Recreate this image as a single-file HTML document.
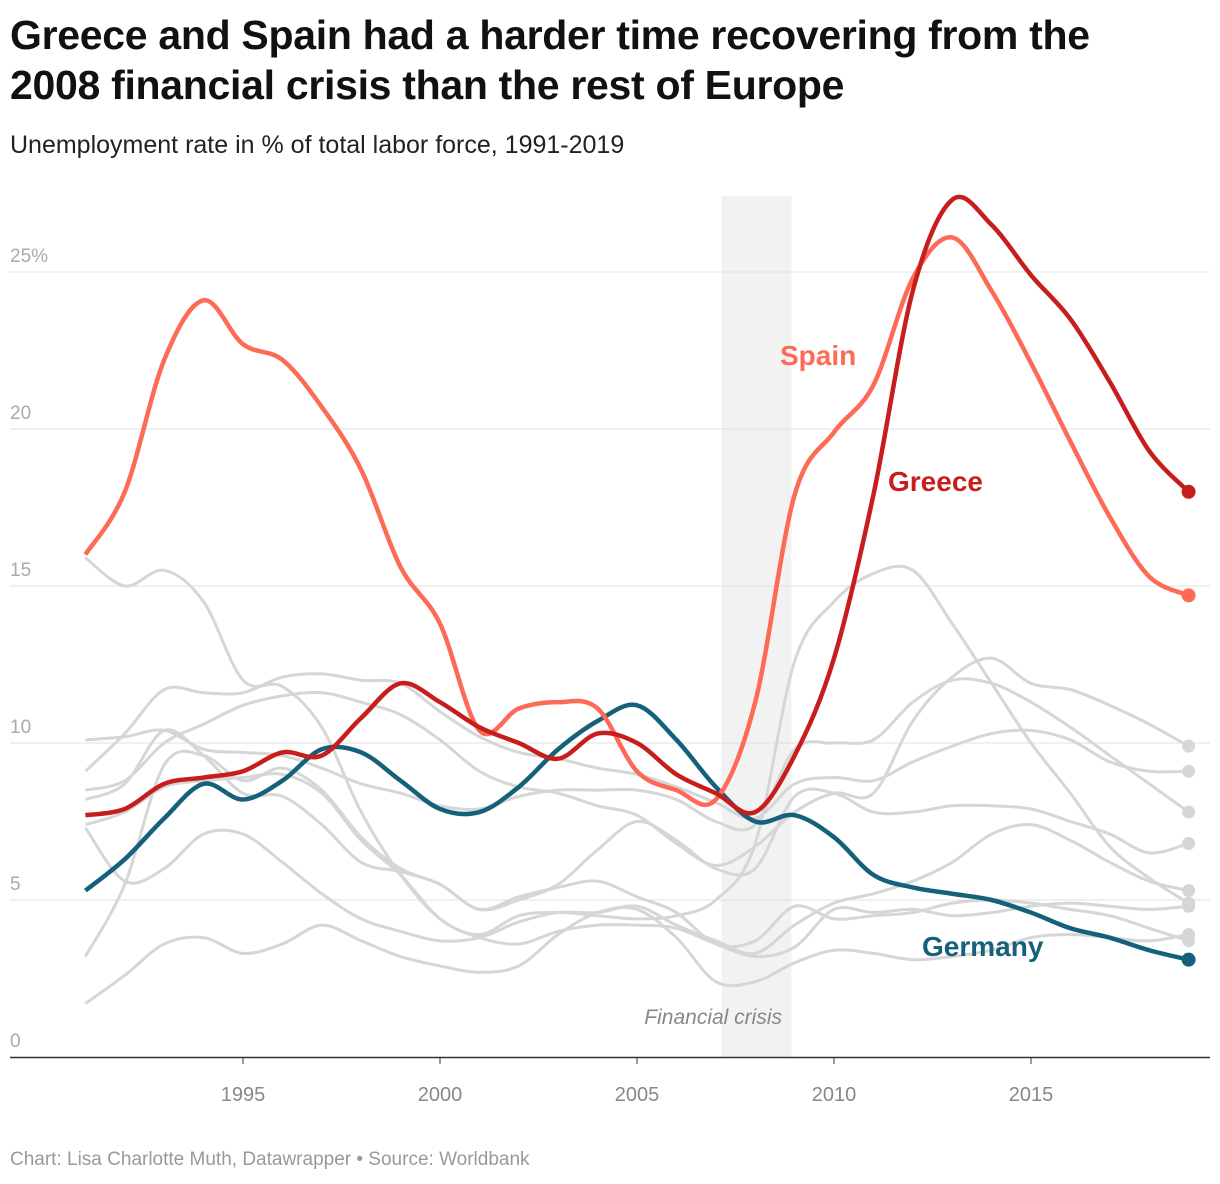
<!DOCTYPE html>
<html><head><meta charset="utf-8">
<style>
body{margin:0;background:#fff;width:1220px;height:1184px;overflow:hidden;font-family:"Liberation Sans",sans-serif;}
h1{position:absolute;left:10px;top:10px;margin:0;font-size:41px;line-height:50px;font-weight:bold;color:#111;width:1160px;letter-spacing:-0.3px;}
.sub{position:absolute;left:10px;top:131px;font-size:25px;color:#222;}
.foot{position:absolute;left:10px;top:1149px;font-size:19px;color:#999;}
svg{position:absolute;left:0;top:0;}
</style></head><body>
<h1>Greece and Spain had a harder time recovering from the 2008 financial crisis than the rest of Europe</h1>
<div class="sub">Unemployment rate in % of total labor force, 1991-2019</div>
<div class="foot">Chart: Lisa Charlotte Muth, Datawrapper • Source: Worldbank</div>
<svg id="chart" width="1220" height="1184"></svg>
<script>
const years=[];for(let y=1991;y<=2019;y++)years.push(y);
const yTicks=[0,5,10,15,20,25];
const xTicks=[1995,2000,2005,2010,2015];
const spain=[16.0,18.0,22.2,24.1,22.7,22.2,20.7,18.7,15.6,13.8,10.4,11.1,11.3,11.1,9.1,8.5,8.2,11.3,17.9,19.9,21.4,24.8,26.1,24.4,22.1,19.6,17.2,15.3,14.7];
const greece=[7.7,7.9,8.7,8.9,9.1,9.7,9.6,10.8,11.9,11.3,10.5,10.0,9.5,10.3,10.0,9.0,8.4,7.8,9.6,12.7,17.9,24.4,27.3,26.5,24.9,23.5,21.5,19.3,18.0];
const germany=[5.3,6.3,7.6,8.7,8.2,8.8,9.8,9.7,8.8,7.9,7.8,8.6,9.8,10.7,11.2,10.1,8.6,7.5,7.7,7.0,5.8,5.4,5.2,5.0,4.6,4.1,3.8,3.4,3.1];
const grey1=[15.9,15.0,15.5,14.5,12.0,11.8,10.5,7.8,5.8,4.4,3.9,4.5,4.6,4.5,4.4,4.5,5.0,6.8,12.6,14.5,15.4,15.5,13.8,11.9,10.0,8.4,6.7,5.7,4.9];
const grey2=[8.5,8.8,10.0,10.6,11.2,11.5,11.6,11.3,10.9,10.1,9.1,8.6,8.4,8.0,7.7,6.8,6.1,6.7,7.8,8.4,8.4,10.7,12.1,12.7,11.9,11.7,11.2,10.6,9.9];
const grey3=[9.1,10.3,11.7,11.6,11.6,12.1,12.2,12.0,11.9,11.0,10.2,9.7,9.5,9.2,9.0,8.6,8.1,7.6,8.7,8.9,8.8,9.4,9.9,10.3,10.4,10.1,9.4,9.1,9.1];
const grey4=[10.1,10.2,10.4,9.8,9.7,9.6,9.2,8.7,8.4,8.0,7.9,8.3,8.5,8.5,8.5,8.2,7.5,7.4,9.8,10.0,10.1,11.3,12.0,11.9,11.3,10.5,9.6,8.7,7.8];
const grey5=[7.3,5.6,6.0,7.1,7.1,6.2,5.2,4.4,4.0,3.7,3.8,4.3,4.6,4.6,4.8,4.2,3.7,3.3,4.2,4.9,5.2,5.6,6.2,7.1,7.4,6.9,6.2,5.6,5.3];
const grey6=[3.2,5.5,9.3,9.6,8.8,9.2,8.5,7.0,6.0,5.5,4.7,5.0,5.5,6.6,7.5,6.9,6.0,6.0,8.3,8.4,7.8,7.8,8.0,8.0,7.9,7.5,7.1,6.5,6.8];
const grey7=[1.7,2.6,3.6,3.8,3.3,3.6,4.2,3.7,3.2,2.9,2.7,2.9,3.9,4.6,4.7,3.8,2.4,2.4,3.0,3.4,3.3,3.1,3.2,3.4,3.8,3.9,3.8,3.7,3.9];
const grey8=[8.2,8.7,10.4,9.6,8.4,8.3,7.4,6.2,5.9,5.5,4.7,5.1,5.4,5.6,5.1,4.6,3.6,3.7,4.8,4.4,4.5,4.6,4.9,5.0,4.9,4.7,4.5,4.1,3.7];
const grey9=[7.4,7.8,8.6,8.8,8.9,9.0,8.4,6.9,5.8,4.4,3.8,3.6,4.0,4.2,4.2,4.1,3.6,3.2,3.5,4.7,4.6,4.7,4.5,4.6,4.8,4.9,4.8,4.7,4.8];
const NS='http://www.w3.org/2000/svg';
const svg=document.getElementById('chart');
const X=yr=>85.4+(yr-1991)*39.4;
const Y=v=>1057-v*31.4;
function mk(tag,attrs,parent){const e=document.createElementNS(NS,tag);for(const k in attrs)e.setAttribute(k,attrs[k]);(parent||svg).appendChild(e);return e;}
const band=mk('rect',{x:X(2007.15),y:196,width:X(2008.92)-X(2007.15),height:1057-196,fill:'#f2f2f2'});


const bl=mk('text',{x:782,y:1024,'text-anchor':'end','font-size':21,'font-style':'italic',fill:'#888'});bl.textContent='Financial crisis';


yTicks.forEach(t=>{
  if(t>0){const g=mk('line',{x1:10,x2:1210,y1:Y(t),y2:Y(t),stroke:'#e0e0e0','stroke-width':1});
  
  }
  const tx=mk('text',{x:10,y:Y(t)-10,'font-size':19,fill:'#aaa'});tx.textContent=t===25?'25%':String(t);
  
  
});
const ax=mk('line',{x1:10,x2:1210,y1:1057.5,y2:1057.5,stroke:'#333','stroke-width':1.5});


xTicks.forEach(t=>{
  const tk=mk('line',{x1:X(t),x2:X(t),y1:1057,y2:1064,stroke:'#333'});
  
  
  const tx=mk('text',{x:X(t),y:1101,'text-anchor':'middle','font-size':20,fill:'#888'});tx.textContent=t;
  
  
});
function pathD(vals){
  const p=vals.map((v,i)=>[X(years[i]),Y(v)]);let d='M'+p[0][0]+','+p[0][1];
  for(let i=0;i<p.length-1;i++){const p0=p[i-1]||p[i],p1=p[i],p2=p[i+1],p3=p[i+2]||p2;
    const c1=[p1[0]+(p2[0]-p0[0])/6,p1[1]+(p2[1]-p0[1])/6],c2=[p2[0]-(p3[0]-p1[0])/6,p2[1]-(p3[1]-p1[1])/6];
    d+=' C'+c1+' '+c2+' '+p2;}
  return d;}
function series(vals,color,w,name){
  const pth=mk('path',{d:pathD(vals),fill:'none',stroke:color,'stroke-width':w,'stroke-linejoin':'round'});
  
  
  const c=mk('circle',{cx:X(2019),cy:Y(vals[vals.length-1]),r:w>3?7:6.5,fill:color});
  
  
}
[grey1,grey2,grey3,grey4,grey5,grey6,grey7,grey8,grey9].forEach((g,i)=>series(g,'#d6d6d6',3,'other-country-'+(i+1)));
series(germany,'#15607a',4.5,'germany');
series(spain,'#fd6a55',4.5,'spain');
series(greece,'#c71e1d',4.5,'greece');
[['Spain',780,365,'#fd6a55',28],['Greece',888,491,'#c71e1d',28],['Germany',922,956,'#15607a',28]].forEach(l=>{
  const t=mk('text',{x:l[1],y:l[2],'font-size':l[4],'font-weight':'bold',fill:l[3]});t.textContent=l[0];
  
  
});
</script>
</body></html>
